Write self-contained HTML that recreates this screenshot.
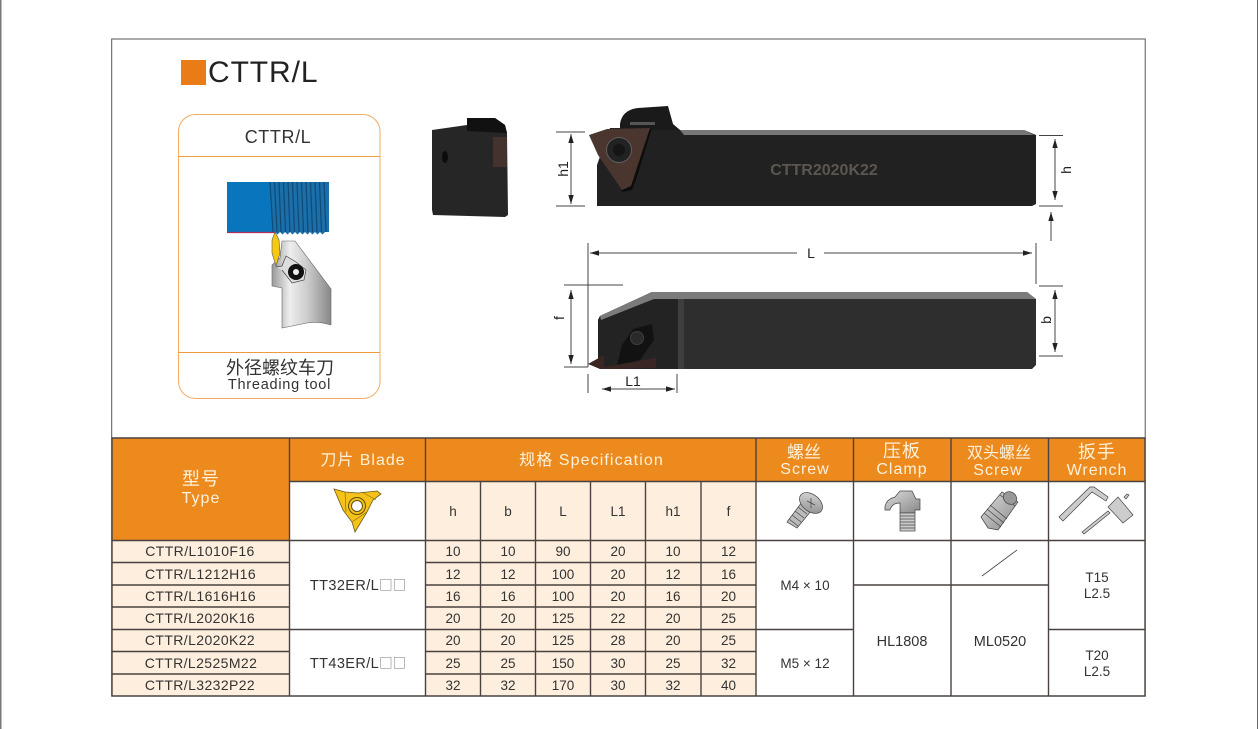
<!DOCTYPE html>
<html><head><meta charset="utf-8"><style>
html,body{margin:0;padding:0;background:#fff;width:1258px;height:729px;overflow:hidden}
svg{display:block;font-family:"Liberation Sans","Noto Sans CJK SC",sans-serif}
.t{font-size:14px;letter-spacing:.4px;fill:#333;text-anchor:middle}
.n{font-size:13.5px;fill:#333;text-anchor:middle}
.h{fill:#fdf1dc;text-anchor:middle;font-size:16px;letter-spacing:1px}
.d{font-size:14px;fill:#222;text-anchor:middle}
.g{stroke:#444;stroke-width:1;fill:none}
.b{stroke:#4a4240;stroke-width:1.4;fill:none}
.sq{font-family:"Noto Sans CJK SC",sans-serif;font-size:13.5px;letter-spacing:0;fill:#777}
</style></head><body>
<svg width="1258" height="729" viewBox="0 0 1258 729" xmlns="http://www.w3.org/2000/svg">
<defs>
<linearGradient id="hg" x1="0" x2="1" y1="0" y2="0"><stop offset="0" stop-color="#999"/><stop offset=".3" stop-color="#eee"/><stop offset=".6" stop-color="#ccc"/><stop offset="1" stop-color="#888"/></linearGradient>
<linearGradient id="ig" x1="0" x2="1" y1="0" y2="1"><stop offset="0" stop-color="#ddd"/><stop offset="1" stop-color="#888"/></linearGradient>
<marker id="a" viewBox="0 0 10 6" refX="10" refY="3" markerWidth="9" markerHeight="5.5" orient="auto-start-reverse" markerUnits="userSpaceOnUse"><path d="M0 0L10 3L0 6z" fill="#222"/></marker>
</defs>
<rect x="0" y="0" width="1.5" height="729" fill="#777"/>
<rect x="1257" y="0" width="1" height="729" fill="#666"/>
<rect x="111.7" y="39" width="1033.5" height="657" fill="#fff" stroke="#555" stroke-width="1"/>

<rect x="181" y="60" width="25" height="25" fill="#e97c16"/>
<text x="208" y="82" font-size="30" letter-spacing=".9" fill="#222">CTTR/L</text>

<rect x="178.500" y="114.500" width="201.500" height="284" rx="17" fill="#fff" stroke="#f2ad62" stroke-width="1"/>
<path d="M178.500 156.500H380M178.500 352.500H380" stroke="#ee9a3e" stroke-width="1"/>
<text x="278" y="143" font-size="18" letter-spacing=".6" fill="#333" text-anchor="middle">CTTR/L</text>
<text x="280" y="374" font-size="18" fill="#333" text-anchor="middle">外径螺纹车刀</text>
<text x="279.500" y="389" font-size="14.500" letter-spacing=".75" fill="#333" text-anchor="middle">Threading tool</text>

<rect x="227" y="182" width="102" height="50" fill="#0875bd"/>
<rect x="271" y="182" width="58" height="50" fill="#1b6ea8"/>
<path d="M270 182L273 232M274.500 182L277 232M279 182L281 232M283.500 182L285.500 232M288 182L290 232M292.500 182L294.500 232M297 182L299 232M301.500 182L303.500 232M306 182L308 232M310.500 182L312.500 232M315 182L317 232M319.500 182L321.500 232M324 182L326 232" stroke="#0d4a78" stroke-width="1.200"/>
<path d="M275 232l2.500 2.500 2.500-2.500 2.500 2.500 2.500-2.500 2.500 2.500 2.500-2.500 2.500 2.500 2.500-2.500 2.500 2.500 2.500-2.500 2.500 2.500 2.500-2.500 2.500 2.500 2.500-2.500 2.500 2.500 2.500-2.500 2.500 2.500 2.500-2.500 2.500 2.500 2.500-2.500" fill="#1b6ea8"/>
<path d="M227 232.500H275" fill="none" stroke="#b0305a" stroke-width="1.200"/>
<path d="M282 241H295L331 289V325Q318 321 307 323L282 328V288L272 286V265L280 258Z" fill="url(#hg)" stroke="#666" stroke-width=".6"/>
<path d="M276 267L282 266 286 256 296 262 306 270 304 280 292 283 282 270" fill="#ddd" stroke="#444" stroke-width=".7"/>
<path d="M275 232L279 240 280 253 276 266 272 253V240Z" fill="#f6c80f" stroke="#555" stroke-width=".6"/>
<circle cx="296" cy="272" r="8" fill="#111"/><circle cx="296" cy="272" r="3" fill="#eee"/>

<path d="M432 130L467 125V118H495L505 125 507 133 508 215 505 217 433 215 432 210Z" fill="#262626"/>
<path d="M467 118H495L505 125 507 133 467 131Z" fill="#111"/>
<rect x="493" y="137" width="14" height="30" fill="#44322e"/>
<ellipse cx="445" cy="157" rx="3" ry="6" fill="#0c0c0c"/>

<path d="M597 206V165L610 128H676L680 130H1024L1036 135V204L1032 206Z" fill="#212121"/>
<path d="M680 130H1024L1034 135H684Z" fill="#777"/>
<path d="M620 124Q622 110 638 108L668 106 673 124 680 130H620Z" fill="#1a1a1a"/>
<path d="M630 122H655V125H630Z" fill="#555"/>
<path d="M618 160L652 128 636 180 632 190 622 192Z" fill="#0d0d0d"/>
<path d="M589 135L607 129 650 128 631 186 622 190 598 155Z" fill="#4a352f"/>
<circle cx="619" cy="150" r="12.500" fill="#222" stroke="#5f5f5f"/>
<circle cx="619" cy="150" r="6" fill="#151515"/>
<text x="824" y="175" font-size="16" font-weight="bold" fill="#5c5650" text-anchor="middle">CTTR2020K22</text>

<path d="M598 367V320L600 316 652 292H1027L1036 299V365L1032 369H600Z" fill="#2e2e2e"/>
<path d="M598 320L600 316 652 292H680V369H600L598 367Z" fill="#232323"/>
<path d="M600 316L652 292H1027L1036 299H654L601 320Z" fill="#7b7b7b"/>
<rect x="678" y="299" width="6" height="70" fill="#3e3e3e"/>
<path d="M633 329L652 324 654 340 640 360 617 366 622 345Z" fill="#121212"/>
<circle cx="637" cy="338" r="6.500" fill="#2a2a2a" stroke="#3f3f3f"/>
<path d="M588 364L604 355V367L656 358V368L620 369H600Z" fill="#3a2723"/>

<g class="g">
<path d="M556 132H585M556 206H585M564 285H623M564 367H588M588 243V367M588 374V393M677 374V393M1039 135.500H1063M1039 206H1063M1036 243V284M1039 286H1063M1039 356H1063"/>
<path d="M571 134V204" marker-start="url(#a)" marker-end="url(#a)"/>
<path d="M571 290V364" marker-start="url(#a)" marker-end="url(#a)"/>
<path d="M797 253H590" marker-end="url(#a)"/>
<path d="M824 253H1032" marker-end="url(#a)"/>
<path d="M602 389H675" marker-start="url(#a)" marker-end="url(#a)"/>
<path d="M1055 139V200" marker-start="url(#a)" marker-end="url(#a)"/>
<path d="M1055 290V352" marker-start="url(#a)" marker-end="url(#a)"/>
<path d="M1051 241V212" marker-end="url(#a)"/>
</g>
<text class="d" x="811" y="258">L</text>
<text class="d" x="633" y="386">L1</text>
<text class="d" transform="translate(568 169) rotate(-90)">h1</text>
<text class="d" transform="translate(564 318) rotate(-90)">f</text>
<text class="d" transform="translate(1071 170) rotate(-90)">h</text>
<text class="d" transform="translate(1051 320) rotate(-90)">b</text>

<rect x="112" y="438" width="1033" height="258" fill="#fff"/>
<rect x="112" y="438" width="1033" height="43.500" fill="#ec8a1e"/>
<rect x="112" y="438" width="177.500" height="103" fill="#ec8a1e"/>
<rect x="425.500" y="481.500" width="330.500" height="214.500" fill="#fdeedd"/>
<rect x="112" y="541" width="177.500" height="155" fill="#fdeedd"/>

<g class="b">
<path d="M289.500 438V696M425.500 438V696M756 438V696M853.500 438V696M951 438V696M1048.500 438V696"/>
<path d="M480.500 481.500V696M535.500 481.500V696M590.500 481.500V696M645.500 481.500V696M701 481.500V696"/>
<path d="M289.500 481.500H1145M112 540.500H1145"/>
<path d="M112 562.500H289.500M112 585H289.500M112 607H289.500M112 629.500H425.500M112 651.500H289.500M112 674H289.500"/>
<path d="M425.500 562.500H756M425.500 585H756M425.500 607H756M425.500 629.500H853.500M425.500 651.500H756M425.500 674H756"/>
<path d="M853.500 585H1048.500M1048.500 629.500H1145"/>
<path d="M112 438H1145V696H112Z"/>
</g>

<text class="h" x="201" y="485" style="font-size:18px">型号</text>
<text class="h" x="201" y="503">Type</text>
<text class="h" x="363" y="465">刀片 Blade</text>
<text class="h" x="591.500" y="465" style="letter-spacing:1.100px">规格 Specification</text>
<text class="h" x="804" y="458" style="font-size:17px;letter-spacing:0">螺丝</text>
<text class="h" x="805" y="474">Screw</text>
<text class="h" x="902" y="457" style="font-size:18px">压板</text>
<text class="h" x="902" y="474">Clamp</text>
<text class="h" x="999" y="458" style="letter-spacing:0">双头螺丝</text>
<text class="h" x="998" y="475">Screw</text>
<text class="h" x="1097" y="458" style="font-size:18px">扳手</text>
<text class="h" x="1097" y="475">Wrench</text>

<g>
<path d="M334 489L345 492 358 493 377 491 381 494 373 500 367 512 355 532 352 522 343 510Z" fill="#f6c21a" stroke="#6a5a10" stroke-width=".8"/>
<path d="M345 492L346 512M362 492L376 500M352 522L367 512" stroke="#8a7010" stroke-width=".7" fill="none"/>
<circle cx="357" cy="506" r="8.500" fill="#f6c21a" stroke="#5f5010"/>
<circle cx="357" cy="506" r="5.500" fill="#fff" stroke="#5f5010"/>
</g>

<g stroke="#444" stroke-width=".7">
<path d="M787 522L802 502 811 511 797 528Z" fill="#bbb"/>
<path d="M789 519L798 526M792 515L801 522M795 511L804 518M798 507L807 514" fill="none"/>
<ellipse cx="811" cy="503" rx="13" ry="8.500" transform="rotate(38 811 503)" fill="url(#ig)"/>
<path d="M807 501L815 505M811 498V508" fill="none"/>
</g>
<g stroke="#444" stroke-width=".7">
<path d="M885 510Q884 500 895 497L900 491H912L916 499H920V510H915V513H900V503Q892 503 890 510Z" fill="url(#ig)"/>
<rect x="900" y="513" width="15" height="18" fill="#ccc"/>
<path d="M900 516H915M900 519H915M900 522H915M900 525H915M900 528H915" fill="none"/>
</g>
<g stroke="#444" stroke-width=".7">
<path d="M981 517L1002 492 1018 502 998 530 988 528Z" fill="url(#ig)"/>
<path d="M984 513L1001 527M987 509L1004 523M990 505L1007 519M1000 495L1015 506" fill="none"/>
<ellipse cx="1010" cy="498" rx="7" ry="6" transform="rotate(35 1010 498)" fill="#999"/>
</g>
<g stroke="#444" stroke-width=".7" fill="#ccc">
<path d="M1059 517L1090 487 1094 487 1108 497 1106 501 1092 492 1063 521Z"/>
<path d="M1082 532L1108 511 1110 513 1084 534Z"/>
<path d="M1108 507L1118 497 1133 515 1123 523Z"/>
<path d="M1124 497L1127 494 1129 495 1126 499Z"/>
</g>

<g class="t">
<text x="200" y="556">CTTR/L1010F16</text>
<text x="200.500" y="579">CTTR/L1212H16</text>
<text x="200.500" y="601">CTTR/L1616H16</text>
<text x="200" y="623">CTTR/L2020K16</text>
<text x="200" y="645">CTTR/L2020K22</text>
<text x="201" y="668">CTTR/L2525M22</text>
<text x="200" y="690">CTTR/L3232P22</text>
</g>
<text class="t" x="358" y="590" style="font-size:14.500px;letter-spacing:.4px">TT32ER/L<tspan class="sq">□□</tspan></text>
<text class="t" x="358" y="668" style="font-size:14.500px;letter-spacing:.4px">TT43ER/L<tspan class="sq">□□</tspan></text>

<g class="n">
<text x="453" y="516">h</text><text x="508" y="516">b</text><text x="563" y="516">L</text><text x="618" y="516">L1</text><text x="673" y="516">h1</text><text x="728.500" y="516">f</text>
<text x="453" y="556">10</text><text x="508" y="556">10</text><text x="563" y="556">90</text><text x="618" y="556">20</text><text x="673" y="556">10</text><text x="728.500" y="556">12</text>
<text x="453" y="579">12</text><text x="508" y="579">12</text><text x="563" y="579">100</text><text x="618" y="579">20</text><text x="673" y="579">12</text><text x="728.500" y="579">16</text>
<text x="453" y="601">16</text><text x="508" y="601">16</text><text x="563" y="601">100</text><text x="618" y="601">20</text><text x="673" y="601">16</text><text x="728.500" y="601">20</text>
<text x="453" y="623">20</text><text x="508" y="623">20</text><text x="563" y="623">125</text><text x="618" y="623">22</text><text x="673" y="623">20</text><text x="728.500" y="623">25</text>
<text x="453" y="645">20</text><text x="508" y="645">20</text><text x="563" y="645">125</text><text x="618" y="645">28</text><text x="673" y="645">20</text><text x="728.500" y="645">25</text>
<text x="453" y="668">25</text><text x="508" y="668">25</text><text x="563" y="668">150</text><text x="618" y="668">30</text><text x="673" y="668">25</text><text x="728.500" y="668">32</text>
<text x="453" y="690">32</text><text x="508" y="690">32</text><text x="563" y="690">170</text><text x="618" y="690">30</text><text x="673" y="690">32</text><text x="728.500" y="690">40</text>
<text x="805" y="590">M4 × 10</text>
<text x="805" y="668">M5 × 12</text>
<text x="902" y="646" style="font-size:14.500px">HL1808</text>
<text x="1000" y="646" style="font-size:14.500px">ML0520</text>
<text x="1097" y="582">T15</text>
<text x="1097" y="598">L2.5</text>
<text x="1097" y="660">T20</text>
<text x="1097" y="676">L2.5</text>
</g>
<path d="M982 576L1017 550" stroke="#444" stroke-width=".8"/>
</svg>
</body></html>
